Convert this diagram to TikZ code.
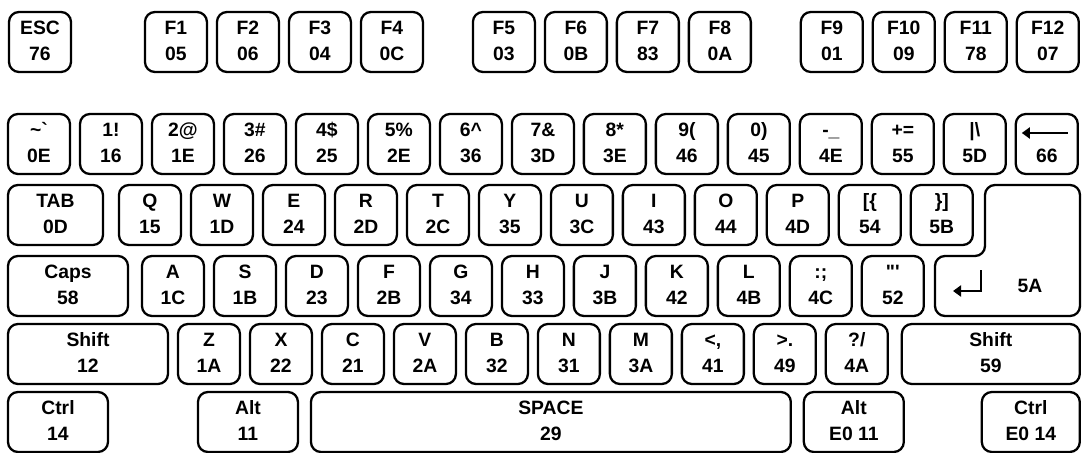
\documentclass[tikz,border=0pt]{standalone}
\usepackage{fontspec}
\usepackage{tikz}
\usetikzlibrary{arrows.meta, positioning}

\newfontfamily\keyfont{Liberation Sans}
\newcommand{\kl}[2]{\strut#1\\\strut#2}

\begin{document}
\begin{tikzpicture}[x=0.02cm,y=-0.02cm,line width=1.3pt]

	\tikzset{
		kbkey/.style={
				draw, rounded corners=0.2cm, inner sep=0pt, outer sep=0pt,
				minimum width=1.24cm, minimum height=1.2cm, align=center,
				font=\keyfont\bfseries\fontsize{11}{15}\selectfont
			},
		arrowglyph/.style={-{Triangle[length=0.16cm,width=0.22cm]}},
	}
	\useasboundingbox (0,0) rectangle (1083,453);

	% function row
	\node[kbkey, anchor=north west](esc) at (9,12) {\kl{ESC}{76}};
	\node[kbkey, right=1.48cm of esc](f1){\kl{F1}{05}};
	\node[kbkey, right=0.2cm of f1](f2){\kl{F2}{06}};
	\node[kbkey, right=0.2cm of f2](f3){\kl{F3}{04}};
	\node[kbkey, right=0.2cm of f3](f4){\kl{F4}{0C}};
	\node[kbkey, right=1cm of f4](f5){\kl{F5}{03}};
	\node[kbkey, right=0.2cm of f5](f6){\kl{F6}{0B}};
	\node[kbkey, right=0.2cm of f6](f7){\kl{F7}{83}};
	\node[kbkey, right=0.2cm of f7](f8){\kl{F8}{0A}};
	\node[kbkey, right=1cm of f8](f9){\kl{F9}{01}};
	\node[kbkey, right=0.2cm of f9](f10){\kl{F10}{09}};
	\node[kbkey, right=0.2cm of f10](f11){\kl{F11}{78}};
	\node[kbkey, right=0.2cm of f11](f12){\kl{F12}{07}};

	% number row
	\node[kbkey, anchor=north west](grave) at (8,114) {\kl{\textasciitilde\textasciigrave}{0E}};
	\node[kbkey, right=0.2cm of grave](n1){\kl{1!}{16}};
	\node[kbkey, right=0.2cm of n1](n2){\kl{2@}{1E}};
	\node[kbkey, right=0.2cm of n2](n3){\kl{3\#}{26}};
	\node[kbkey, right=0.2cm of n3](n4){\kl{4\$}{25}};
	\node[kbkey, right=0.2cm of n4](n5){\kl{5\%}{2E}};
	\node[kbkey, right=0.2cm of n5](n6){\kl{6\textasciicircum}{36}};
	\node[kbkey, right=0.2cm of n6](n7){\kl{7\&}{3D}};
	\node[kbkey, right=0.2cm of n7](n8){\kl{8*}{3E}};
	\node[kbkey, right=0.2cm of n8](n9){\kl{9(}{46}};
	\node[kbkey, right=0.2cm of n9](n0){\kl{0)}{45}};
	\node[kbkey, right=0.2cm of n0](minus){\kl{-\_}{4E}};
	\node[kbkey, right=0.2cm of minus](equal){\kl{+=}{55}};
	\node[kbkey, right=0.2cm of equal](bslash){\kl{|\textbackslash}{5D}};
	\node[kbkey, right=0.2cm of bslash](bksp){\kl{}{66}};
	\draw[arrowglyph] ([xshift=0.42cm,yshift=0.22cm]bksp.center) -- ([xshift=-0.5cm,yshift=0.22cm]bksp.center);

	% tab row
	\node[kbkey, minimum width=1.9cm, anchor=north west](tab) at (8,185) {\kl{TAB}{0D}};
	\node[kbkey, right=0.32cm of tab](q){\kl{Q}{15}};
	\node[kbkey, right=0.2cm of q](w){\kl{W}{1D}};
	\node[kbkey, right=0.2cm of w](e){\kl{E}{24}};
	\node[kbkey, right=0.2cm of e](r){\kl{R}{2D}};
	\node[kbkey, right=0.2cm of r](t){\kl{T}{2C}};
	\node[kbkey, right=0.2cm of t](y){\kl{Y}{35}};
	\node[kbkey, right=0.2cm of y](u){\kl{U}{3C}};
	\node[kbkey, right=0.2cm of u](i){\kl{I}{43}};
	\node[kbkey, right=0.2cm of i](o){\kl{O}{44}};
	\node[kbkey, right=0.2cm of o](p){\kl{P}{4D}};
	\node[kbkey, right=0.2cm of p](lbrack){\kl{[\{}{54}};
	\node[kbkey, right=0.2cm of lbrack](rbrack){\kl{\}]}{5B}};

	% enter
	\draw[rounded corners=0.2cm] (985,185) -- (1080,185) -- (1080,316) -- (935,316) -- (935,256) -- (985,256) -- cycle;
	\node[font=\keyfont\bfseries\fontsize{11}{15}\selectfont](enter) at (1030,286) {5A};
	\draw[arrowglyph, line width=1.6pt] (981,270) -- (981,291) -- (953,291);

	% caps row
	\node[kbkey, minimum width=2.4cm, anchor=north west](caps) at (8,256) {\kl{Caps}{58}};
	\node[kbkey, right=0.28cm of caps](a){\kl{A}{1C}};
	\node[kbkey, right=0.2cm of a](s){\kl{S}{1B}};
	\node[kbkey, right=0.2cm of s](d){\kl{D}{23}};
	\node[kbkey, right=0.2cm of d](f){\kl{F}{2B}};
	\node[kbkey, right=0.2cm of f](g){\kl{G}{34}};
	\node[kbkey, right=0.2cm of g](h){\kl{H}{33}};
	\node[kbkey, right=0.2cm of h](j){\kl{J}{3B}};
	\node[kbkey, right=0.2cm of j](k){\kl{K}{42}};
	\node[kbkey, right=0.2cm of k](l){\kl{L}{4B}};
	\node[kbkey, right=0.2cm of l](semi){\kl{:;}{4C}};
	\node[kbkey, right=0.2cm of semi](quote){\kl{"\textquotesingle}{52}};

	% shift row
	\node[kbkey, minimum width=3.2cm, anchor=north west](lshift) at (8,324) {\kl{Shift}{12}};
	\node[kbkey, right=0.2cm of lshift](z){\kl{Z}{1A}};
	\node[kbkey, right=0.2cm of z](x){\kl{X}{22}};
	\node[kbkey, right=0.2cm of x](c){\kl{C}{21}};
	\node[kbkey, right=0.2cm of c](v){\kl{V}{2A}};
	\node[kbkey, right=0.2cm of v](b){\kl{B}{32}};
	\node[kbkey, right=0.2cm of b](n){\kl{N}{31}};
	\node[kbkey, right=0.2cm of n](m){\kl{M}{3A}};
	\node[kbkey, right=0.2cm of m](comma){\kl{<,}{41}};
	\node[kbkey, right=0.2cm of comma](period){\kl{>.}{49}};
	\node[kbkey, right=0.2cm of period](slash){\kl{?/}{4A}};
	\node[kbkey, minimum width=3.56cm, right=0.28cm of slash](rshift){\kl{Shift}{59}};

	% bottom row
	\node[kbkey, minimum width=2cm, anchor=north west](lctrl) at (8,392) {\kl{Ctrl}{14}};
	\node[kbkey, minimum width=2cm, right=1.8cm of lctrl](lalt){\kl{Alt}{11}};
	\node[kbkey, minimum width=9.6cm, right=0.26cm of lalt](space){\kl{SPACE}{29}};
	\node[kbkey, minimum width=2cm, right=0.26cm of space](ralt){\kl{Alt}{E0 11}};
	\node[kbkey, minimum width=1.96cm, right=1.56cm of ralt](rctrl){\kl{Ctrl}{E0 14}};

\end{tikzpicture}
\end{document}
